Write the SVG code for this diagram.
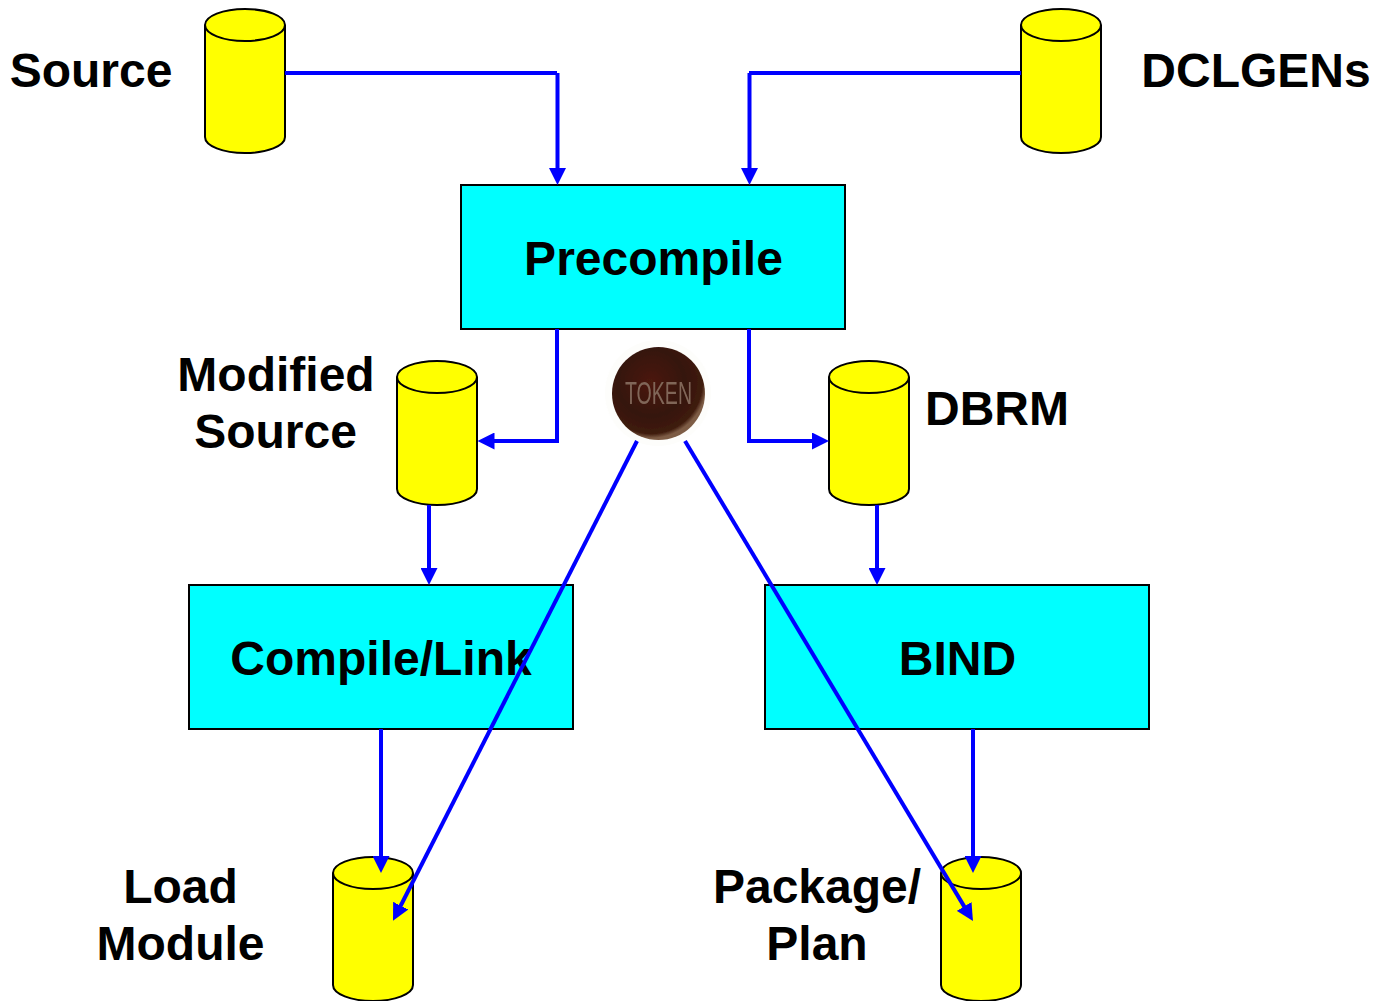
<svg xmlns="http://www.w3.org/2000/svg" width="1377" height="1001" viewBox="0 0 1377 1001">
<style>
.cyl{fill:#ff0;stroke:#000;stroke-width:2}
.box{fill:#0ff;stroke:#000;stroke-width:2}
.lbl{font-family:"Liberation Sans",Arial,sans-serif;font-weight:700;font-size:48px;fill:#000;text-anchor:middle}
.con{fill:none;stroke:#00f;stroke-width:4}
.end{marker-end:url(#ah)}
</style>
<defs>
<marker id="ah" markerUnits="userSpaceOnUse" markerWidth="17" markerHeight="17" refX="6" refY="8.500" orient="auto"><path d="M0 0L17 8.500L0 17Z" fill="#00f"/></marker>
<radialGradient id="coin" cx="42%" cy="38%" r="60%"><stop offset="0" stop-color="#4b1a0e"/><stop offset=".6" stop-color="#35130b"/><stop offset=".92" stop-color="#3f1c0e"/><stop offset="1" stop-color="#7d5c45"/></radialGradient>
<filter id="soft" x="-10%" y="-10%" width="120%" height="120%"><feGaussianBlur stdDeviation="0.7"/></filter>
<symbol id="cyl" overflow="visible"><path class="cyl" d="M0 16V128C0 137 18 144 40 144S80 137 80 128V16"/><ellipse class="cyl" cx="40" cy="16" rx="40" ry="16"/></symbol>
</defs>
<rect width="1377" height="1001" fill="#fff"/>
<g id="source-db"><use href="#cyl" x="205" y="9"/></g>
<g id="dclgens-db"><use href="#cyl" x="1021" y="9"/></g>
<g id="modified-db"><use href="#cyl" x="397" y="361"/></g>
<g id="dbrm-db"><use href="#cyl" x="829" y="361"/></g>
<g id="load-db"><use href="#cyl" x="333" y="857"/></g>
<g id="package-db"><use href="#cyl" x="941" y="857"/></g>
<g id="source-label"><text class="lbl" x="91" y="87">Source</text></g>
<g id="dclgens-label"><text class="lbl" x="1256" y="87">DCLGENs</text></g>
<g id="modified-label"><text class="lbl" x="276" y="391">Modified</text><text class="lbl" x="275.5" y="448">Source</text></g>
<g id="dbrm-label"><text class="lbl" x="997" y="425">DBRM</text></g>
<g id="load-label"><text class="lbl" x="180.5" y="903">Load</text><text class="lbl" x="180.5" y="960">Module</text></g>
<g id="package-label"><text class="lbl" x="817" y="903">Package/</text><text class="lbl" x="817" y="960">Plan</text></g>
<g id="precompile"><rect class="box" x="461" y="185" width="384" height="144"/><text class="lbl" x="653.5" y="275">Precompile</text></g>
<g id="compile"><rect class="box" x="189" y="585" width="384" height="144"/><text class="lbl" x="381" y="675">Compile/Link</text></g>
<g id="bind"><rect class="box" x="765" y="585" width="384" height="144"/><text class="lbl" x="957.5" y="675">BIND</text></g>
<g id="token"><circle cx="658" cy="393" r="53" fill="#fdfdfb"/><g filter="url(#soft)"><circle cx="658.5" cy="393.500" r="46.500" fill="url(#coin)"/><text x="658.500" y="404" font-family="'Liberation Sans',Arial,sans-serif" font-size="31" fill="#806658" text-anchor="middle" textLength="67" lengthAdjust="spacingAndGlyphs">TOKEN</text></g></g>
<g id="connectors">
<path class="con" d="M285 73H557"/>
<path class="con end" d="M557.500 73V174"/>
<path class="con" d="M1021 73H749"/>
<path class="con end" d="M749.500 73V174"/>
<path class="con" d="M557 329V443"/>
<path class="con end" d="M559 441H488.500"/>
<path class="con" d="M749 329V443"/>
<path class="con end" d="M747 441H818"/>
<path class="con end" d="M429 505V574"/>
<path class="con end" d="M877 505V574"/>
<path class="con end" d="M381 729V862"/>
<path class="con end" d="M973 729V862"/>
<path class="con end" d="M637 441L398 911"/>
<path class="con end" d="M685 441L967.300 911.600"/>
</g>
</svg>
